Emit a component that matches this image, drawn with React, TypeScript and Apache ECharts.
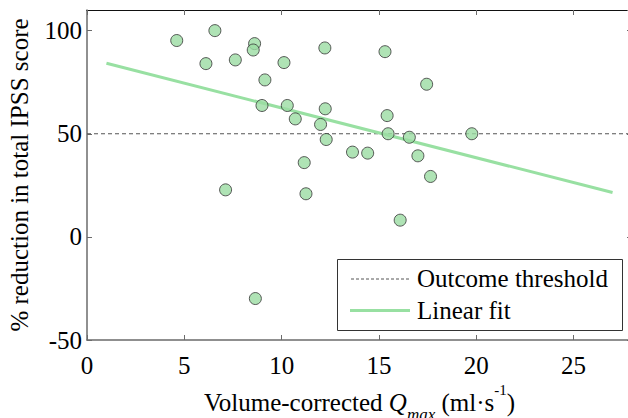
import React, { useEffect, useRef } from "react";
import * as echarts from "echarts";

const qmax = [4.61, 6.57, 6.11, 7.62, 8.61, 8.54, 10.12, 9.14, 8.99, 10.29, 10.7, 12.22, 15.31, 12.24, 12.0, 12.29, 15.42, 15.47, 16.56, 13.64, 14.42, 11.16, 11.25, 16.09, 17.0, 17.65, 17.45, 19.77, 7.12, 8.65];
const reduction = [95.2, 100, 84.0, 85.8, 93.7, 90.6, 84.5, 76.1, 63.7, 63.7, 57.2, 91.6, 89.8, 62.1, 54.5, 47.2, 58.8, 50.0, 48.3, 41.1, 40.6, 36.0, 20.9, 8.1, 39.3, 29.3, 74.0, 50.0, 22.8, -29.9];
const thresholdX = [0, 28];
const thresholdY = [50, 50];
const fitX = [1, 27];
const fitY = [84.2, 21.5];
const xTicks = [0, 5, 10, 15, 20, 25];
const yTicks = [-50, 0, 50, 100];
const legendLabels = ["Outcome threshold", "Linear fit"];

const FONT = "Liberation Serif";
const FIT_COLOR = "#98e0a2";
const THRESH_COLOR = "#555555";

export default function App() {
  const ref = useRef<HTMLDivElement>(null);
  useEffect(() => {
    const chart = echarts.init(ref.current!, null, { renderer: "svg" });
    const tickStyle = { show: true, inside: true, length: 5, lineStyle: { color: "#6b6b6b", width: 1 } };
    const option: any = {
      animation: false,
      grid: { left: 87, top: 10, width: 545, height: 330, containLabel: false, outerBoundsMode: "none" },
      graphic: [
        {
          type: "rect",
          z: 100,
          shape: { x: 337.5, y: 259.5, width: 285, height: 71 },
          style: { fill: "#ffffff", stroke: "#333333", lineWidth: 1 },
        },
        {
          type: "line",
          z: 101,
          shape: { x1: 351, y1: 279, x2: 410, y2: 279 },
          style: { stroke: THRESH_COLOR, lineWidth: 1, lineDash: [3, 2] },
        },
        {
          type: "text",
          z: 101,
          x: 417,
          y: 266,
          style: { text: legendLabels[0], fontFamily: FONT, fontSize: 25, fill: "#000" },
        },
        {
          type: "line",
          z: 101,
          shape: { x1: 350, y1: 310.5, x2: 410, y2: 310.5 },
          style: { stroke: FIT_COLOR, lineWidth: 3 },
        },
        {
          type: "text",
          z: 101,
          x: 417,
          y: 297.5,
          style: { text: legendLabels[1], fontFamily: FONT, fontSize: 25, fill: "#000" },
        },
      ],
      xAxis: [
        {
          type: "value",
          min: 0,
          max: 28,
          interval: 5,
          position: "bottom",
          splitLine: { show: false },
          axisLine: { show: true, onZero: false, lineStyle: { color: "#6b6b6b", width: 1.5 } },
          axisTick: tickStyle,
          axisLabel: {
            show: true,
            margin: 13,
            fontFamily: FONT,
            fontSize: 25,
            color: "#000",
            showMaxLabel: false,
            formatter: (v: number) => (xTicks.includes(v) ? String(v) : ""),
          },
          name: "Volume-corrected {i|Q}{sub|max} (ml·s{sup|-1})",
          nameLocation: "middle",
          nameGap: 35,
          nameTextStyle: {
            fontFamily: FONT,
            fontSize: 25,
            color: "#000",
            lineHeight: 40,
            rich: {
              i: { fontFamily: FONT, fontSize: 25, fontStyle: "italic", color: "#000", lineHeight: 40 },
              sub: { fontFamily: FONT, fontSize: 17, fontStyle: "italic", color: "#000", lineHeight: 21, verticalAlign: "bottom" },
              sup: { fontFamily: FONT, fontSize: 15, color: "#000", lineHeight: 24, verticalAlign: "top" },
            },
          },
        },
        {
          type: "value",
          min: 0,
          max: 28,
          interval: 5,
          position: "top",
          splitLine: { show: false },
          axisLine: { show: true, onZero: false, lineStyle: { color: "#111111", width: 1.2 } },
          axisTick: tickStyle,
          axisLabel: { show: false },
        },
      ],
      yAxis: [
        {
          type: "value",
          min: -50,
          max: 110,
          interval: 50,
          position: "left",
          splitLine: { show: false },
          axisLine: { show: true, onZero: false, lineStyle: { color: "#6b6b6b", width: 1.5 } },
          axisTick: tickStyle,
          axisLabel: {
            show: true,
            margin: 5,
            fontFamily: FONT,
            fontSize: 25,
            color: "#000",
            showMaxLabel: false,
            formatter: (v: number) => (yTicks.includes(v) ? String(v) : ""),
          },
          name: "% reduction in total IPSS score",
          nameLocation: "middle",
          nameGap: 55,
          nameTextStyle: { fontFamily: FONT, fontSize: 25, color: "#000" },
        },
        {
          type: "value",
          min: -50,
          max: 110,
          interval: 50,
          position: "right",
          splitLine: { show: false },
          axisLine: { show: true, onZero: false, lineStyle: { color: "#111111", width: 1.2 } },
          axisTick: tickStyle,
          axisLabel: { show: false },
        },
      ],
      series: [
        {
          name: legendLabels[0],
          type: "line",
          data: thresholdX.map((x, i) => [x, thresholdY[i]]),
          symbol: "none",
          lineStyle: { color: THRESH_COLOR, width: 1.2, type: [4, 3] },
          z: 2,
        },
        {
          name: legendLabels[1],
          type: "line",
          data: fitX.map((x, i) => [x, fitY[i]]),
          symbol: "none",
          lineStyle: { color: FIT_COLOR, width: 3 },
          z: 3,
        },
        {
          name: "Data",
          type: "scatter",
          data: qmax.map((x, i) => [x, reduction[i]]),
          symbol: "circle",
          symbolSize: 12,
          itemStyle: { color: "#9bdca2", borderColor: "#333333", borderWidth: 1 },
          z: 4,
        },
      ],
    };
    chart.setOption(option);
    return () => chart.dispose();
  }, []);
  return (
    <div
      ref={ref}
      style={{ position: "fixed", left: 0, top: 0, width: 628, height: 418, background: "#fff" }}
    />
  );
}
